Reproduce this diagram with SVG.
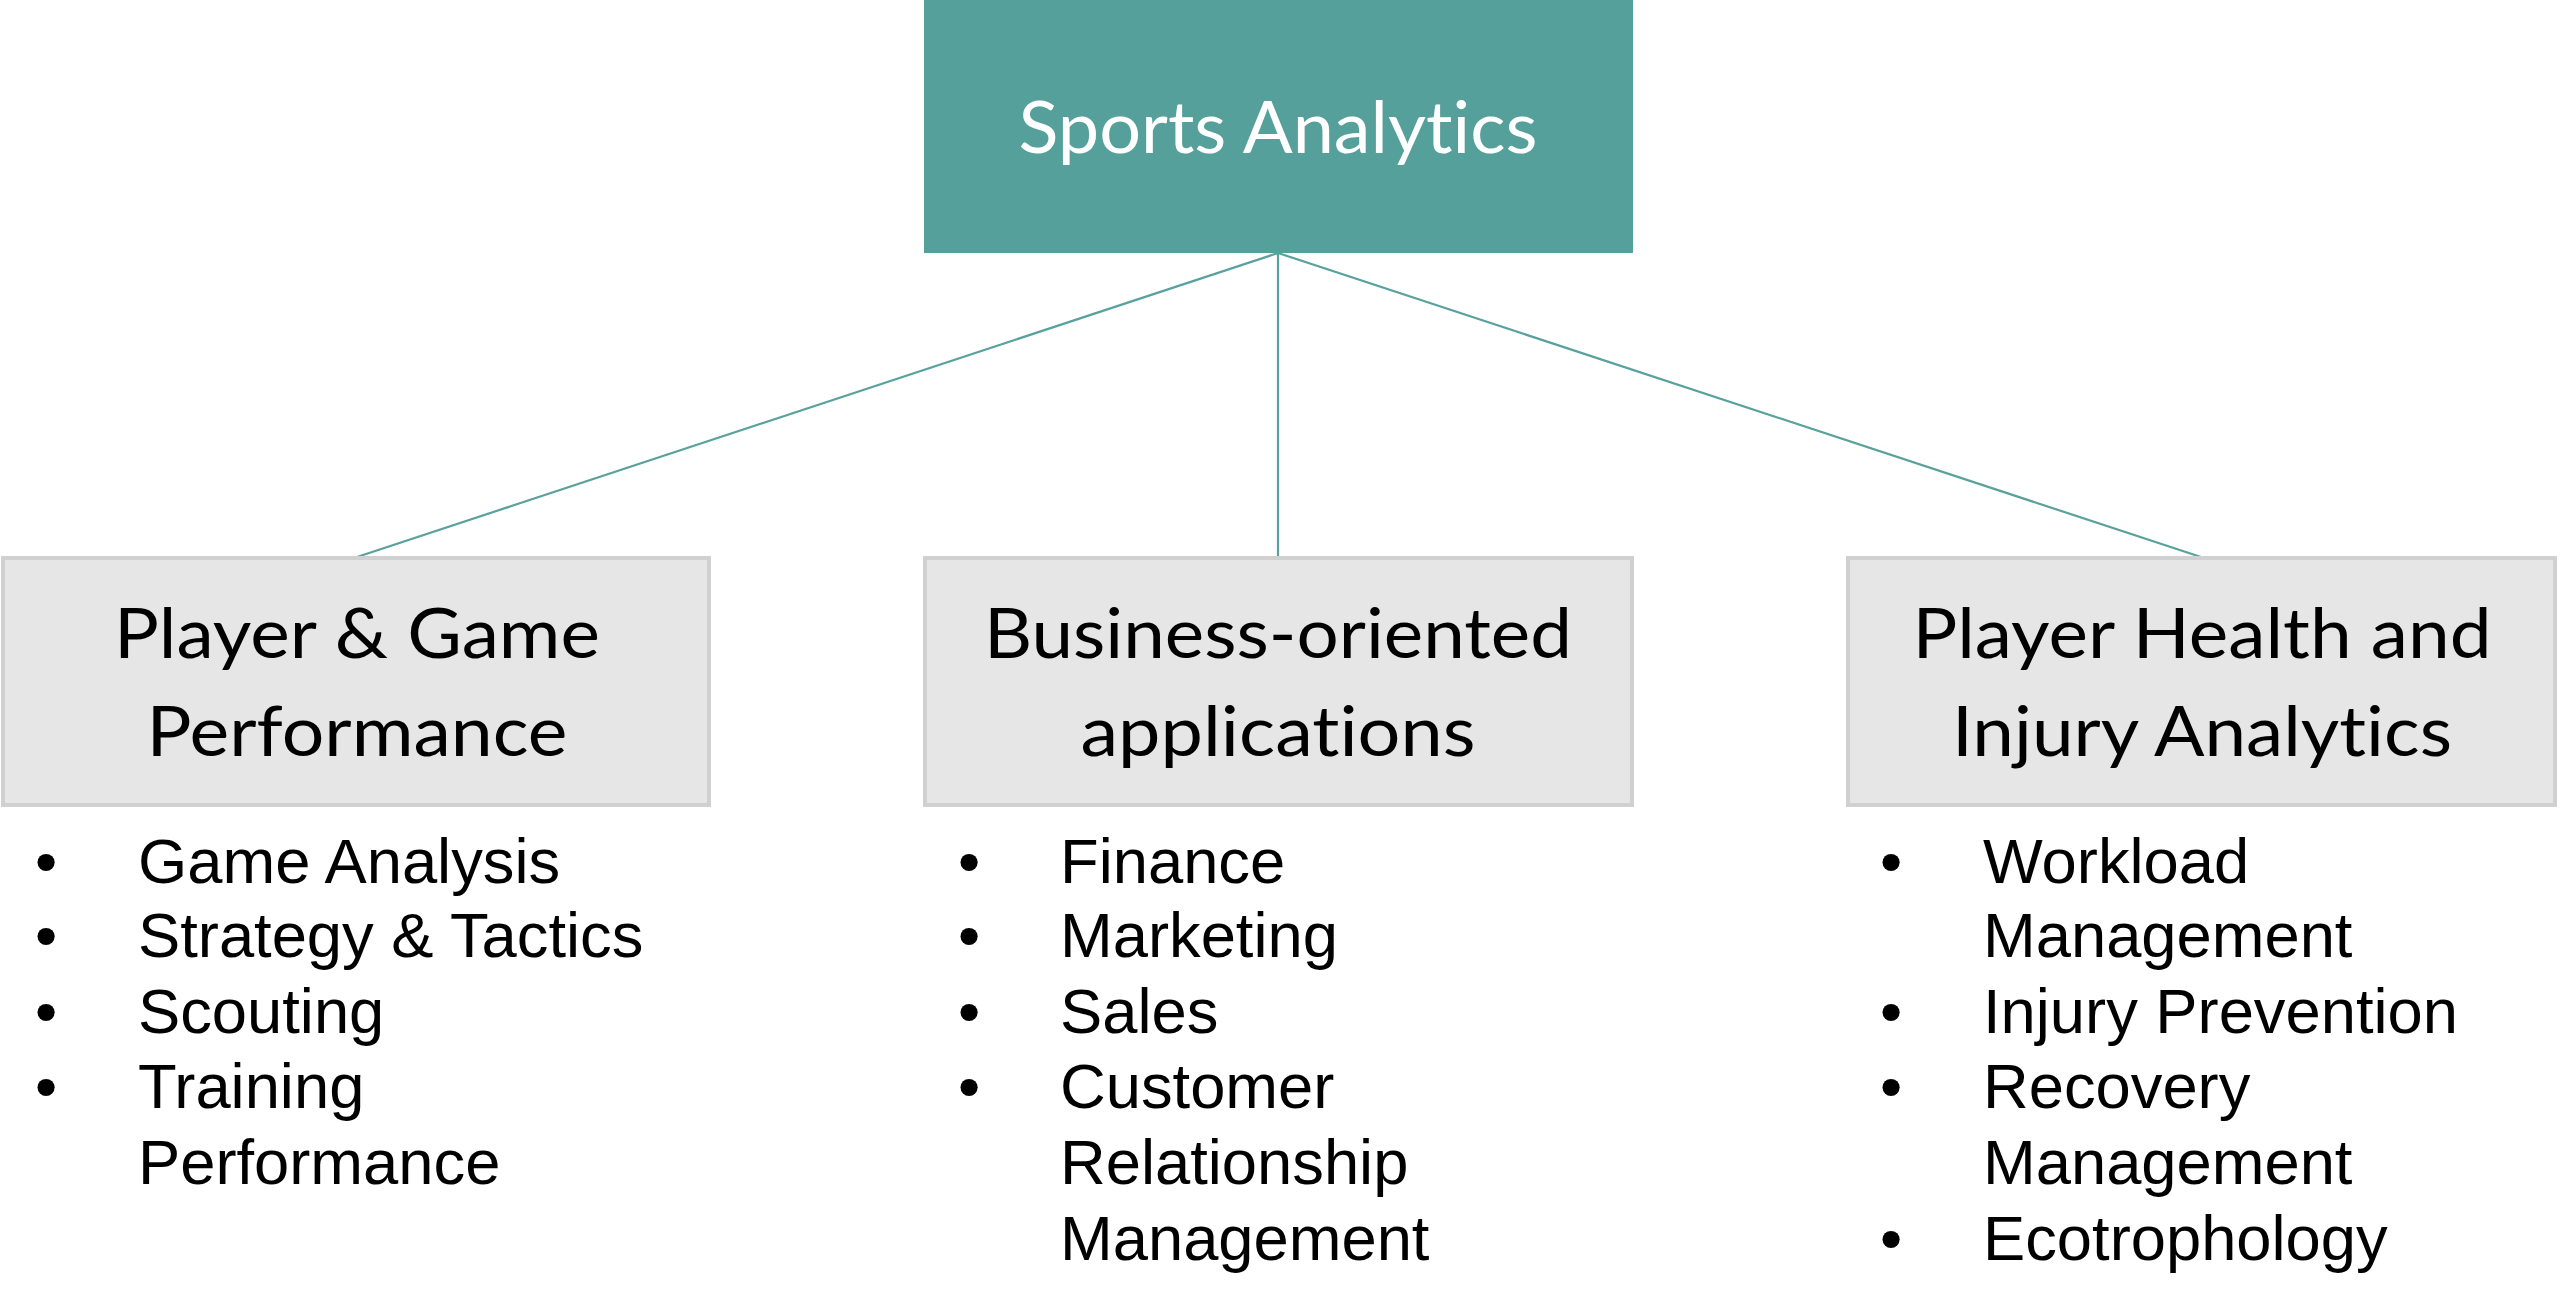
<svg xmlns="http://www.w3.org/2000/svg" width="2560" height="1314" viewBox="0 0 2560 1314">
<style>
.box{fill:#e7e6e6;stroke:#d0d0d0;stroke-width:4}
.head{font-family:Lato,"Open Sans","Liberation Sans",sans-serif;font-size:70px;fill:#000;text-anchor:middle;font-variant-ligatures:none}
.title{font-family:Lato,"Open Sans","Liberation Sans",sans-serif;font-size:71px;fill:#fff;text-anchor:middle;font-variant-ligatures:none}
.item{font-family:"Liberation Sans",Arial,sans-serif;font-size:63.3px;fill:#000}
.bul{font-family:"Liberation Sans",Arial,sans-serif;font-size:63.3px;fill:#000;text-anchor:middle}
.conn{stroke:#58a19c;stroke-width:2.2;fill:none}
</style>
<rect width="2560" height="1314" fill="#fff"/>
<g id="connectors">
<line class="conn" x1="1278" y1="253" x2="357" y2="557"/>
<line class="conn" x1="1278" y1="253" x2="1278" y2="557"/>
<line class="conn" x1="1278" y1="253" x2="2201" y2="557"/>
</g>
<g id="sports-analytics">
<rect x="924" y="-2" width="709" height="255" fill="#56a09b"/>
<text class="title" x="1278" y="153" textLength="519" lengthAdjust="spacingAndGlyphs">Sports Analytics</text>
</g>
<g id="player-game">
<rect class="box" x="3" y="558" width="706" height="247"/>
<text class="head" x="357" y="658" textLength="486" lengthAdjust="spacingAndGlyphs">Player &amp; Game</text>
<text class="head" x="357" y="756" textLength="421" lengthAdjust="spacingAndGlyphs">Performance</text>
<text class="bul" x="46" y="883">•</text>
<text class="item" x="138" y="883">Game Analysis</text>
<text class="bul" x="46" y="957">•</text>
<text class="item" x="138" y="957">Strategy &amp; Tactics</text>
<text class="bul" x="46" y="1033">•</text>
<text class="item" x="138" y="1033">Scouting</text>
<text class="bul" x="46" y="1108">•</text>
<text class="item" x="138" y="1108">Training</text>
<text class="item" x="138" y="1184">Performance</text>
</g>
<g id="business">
<rect class="box" x="925" y="558" width="707" height="247"/>
<text class="head" x="1278" y="658" textLength="588" lengthAdjust="spacingAndGlyphs">Business-oriented</text>
<text class="head" x="1278" y="756" textLength="395" lengthAdjust="spacingAndGlyphs">applications</text>
<text class="bul" x="969" y="883">•</text>
<text class="item" x="1060" y="883">Finance</text>
<text class="bul" x="969" y="957">•</text>
<text class="item" x="1060" y="957">Marketing</text>
<text class="bul" x="969" y="1033">•</text>
<text class="item" x="1060" y="1033">Sales</text>
<text class="bul" x="969" y="1108">•</text>
<text class="item" x="1060" y="1108">Customer</text>
<text class="item" x="1060" y="1184">Relationship</text>
<text class="item" x="1060" y="1260">Management</text>
</g>
<g id="health-injury">
<rect class="box" x="1848" y="558" width="707" height="247"/>
<text class="head" x="2202" y="658" textLength="579" lengthAdjust="spacingAndGlyphs">Player Health and</text>
<text class="head" x="2202" y="756" textLength="500" lengthAdjust="spacingAndGlyphs">Injury Analytics</text>
<text class="bul" x="1891" y="883">•</text>
<text class="item" x="1983" y="883">Workload</text>
<text class="item" x="1983" y="957">Management</text>
<text class="bul" x="1891" y="1033">•</text>
<text class="item" x="1983" y="1033">Injury Prevention</text>
<text class="bul" x="1891" y="1108">•</text>
<text class="item" x="1983" y="1108">Recovery</text>
<text class="item" x="1983" y="1184">Management</text>
<text class="bul" x="1891" y="1260">•</text>
<text class="item" x="1983" y="1260">Ecotrophology</text>
</g>
</svg>
